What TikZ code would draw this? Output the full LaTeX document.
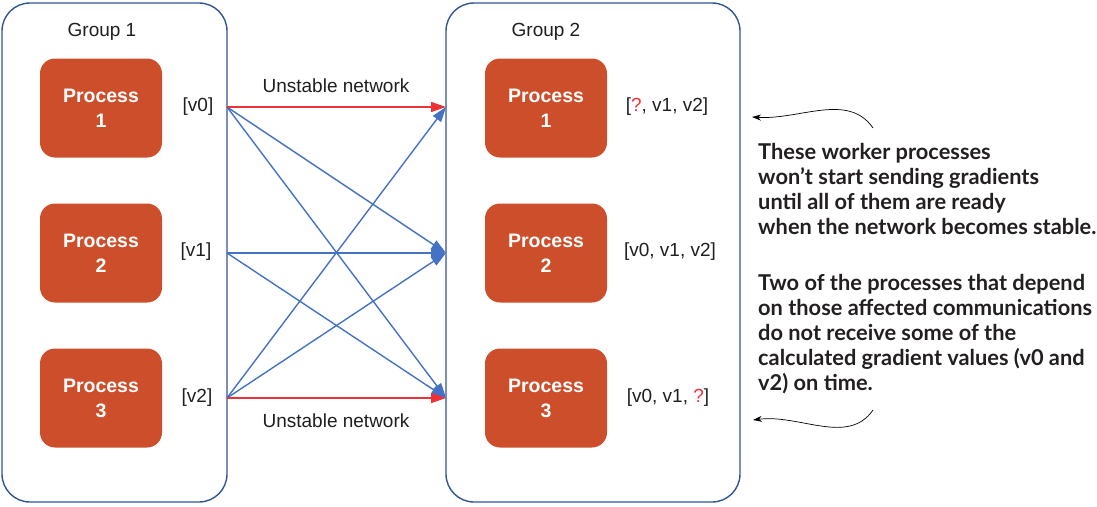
\documentclass[tikz,border=0pt]{standalone}
\usepackage{fontspec}
\setmainfont{Liberation Sans}
\newfontfamily\notefont{Lato}
\usetikzlibrary{arrows.meta}
\definecolor{procfill}{RGB}{205,78,42}
\definecolor{groupline}{RGB}{47,85,151}
\definecolor{linkblue}{RGB}{68,114,196}
\definecolor{linkred}{RGB}{237,50,55}
\definecolor{notetext}{RGB}{35,31,32}
\tikzset{
  groupbox/.style={draw=groupline, line width=1.4pt, rounded corners=28pt, minimum width=225pt, minimum height=499pt, inner sep=0pt},
  procbox/.style={fill=procfill, rounded corners=15pt, minimum width=122pt, minimum height=99pt, text=white, align=center, font=\fontsize{19.5}{25}\selectfont\bfseries},
  lbl/.style={font=\fontsize{19}{22}\selectfont, inner sep=0pt, text=black!88},
  link/.style={linkblue, line width=1.4pt, -{Triangle[length=15pt,width=10pt]}},
  redlink/.style={linkred, line width=1.4pt, -{Triangle[length=15pt,width=10pt]}},
  note/.style={font=\notefont\fontsize{21.8}{25}\selectfont\bfseries, text=notetext, align=left, anchor=north west, inner sep=0pt},
  curly/.style={line width=0.7pt, -{Stealth[length=9pt,width=6pt]}}
}
\begin{document}
\begin{tikzpicture}[x=1pt,y=-1pt]
\useasboundingbox (0,0) rectangle (1097,506);
% groups
\node[groupbox] (g1) at (114.5,252.5) {};
\node[groupbox, minimum width=294pt] (g2) at (593,252.5) {};
\node[lbl] (g1t) at (102,32) {Group 1};
\node[lbl] (g2t) at (546,32) {Group 2};
% processes
\node[procbox] (p11) at (101,108) {Process\\1};
\node[procbox] (p12) at (101,253) {Process\\2};
\node[procbox] (p13) at (101,398) {Process\\3};
\node[procbox] (p21) at (546,108) {Process\\1};
\node[procbox] (p22) at (546,253) {Process\\2};
\node[procbox] (p23) at (546,398) {Process\\3};
% value labels
\node[lbl] (v0) at (198,107) {[v0]};
\node[lbl] (v1) at (196,252) {[v1]};
\node[lbl] (v2) at (197,398) {[v2]};
\node[lbl] (r1) at (667,107) {[{\color{linkred}?}, v1, v2]};
\node[lbl] (r2) at (670,252) {[v0, v1, v2]};
\node[lbl] (r3) at (668,398) {[v0, v1, {\color{linkred}?}]};
% connection points on group borders
\coordinate (s0) at (227,107);
\coordinate (s1) at (227,253);
\coordinate (s2) at (227,398);
\coordinate (t0) at (446,107);
\coordinate (t1) at (446,253);
\coordinate (t2) at (446,398);
% links
\draw[link] (s0) -- (t1);
\draw[link] (s0) -- (t2);
\draw[link] (s1) -- (t1);
\draw[link] (s1) -- (t2);
\draw[link] (s2) -- (t0);
\draw[link] (s2) -- (t1);
\draw[redlink] (s0) -- (t0);
\draw[redlink] (s2) -- (t2);
\node[lbl] (u1) at (336,86) {Unstable network};
\node[lbl] (u2) at (336,421) {Unstable network};
% notes
\node[note] (n1) at (758,143) {These worker processes\\won’t start sending gradients\\until all of them are ready\\when the network becomes stable.};
\node[note] (n2) at (758,274) {Two of the processes that depend\\on those affected communications\\do not receive some of the\\calculated gradient values (v0 and\\v2) on time.};
\coordinate (c1s) at (873,128);
\coordinate (c1e) at (752,117);
\coordinate (c2s) at (873,410);
\coordinate (c2e) at (753,420);
\draw[curly] (c1s) .. controls (848,92) and (800,120) .. (c1e);
\draw[curly] (c2s) .. controls (848,446) and (800,414) .. (c2e);
\end{tikzpicture}
\end{document}
